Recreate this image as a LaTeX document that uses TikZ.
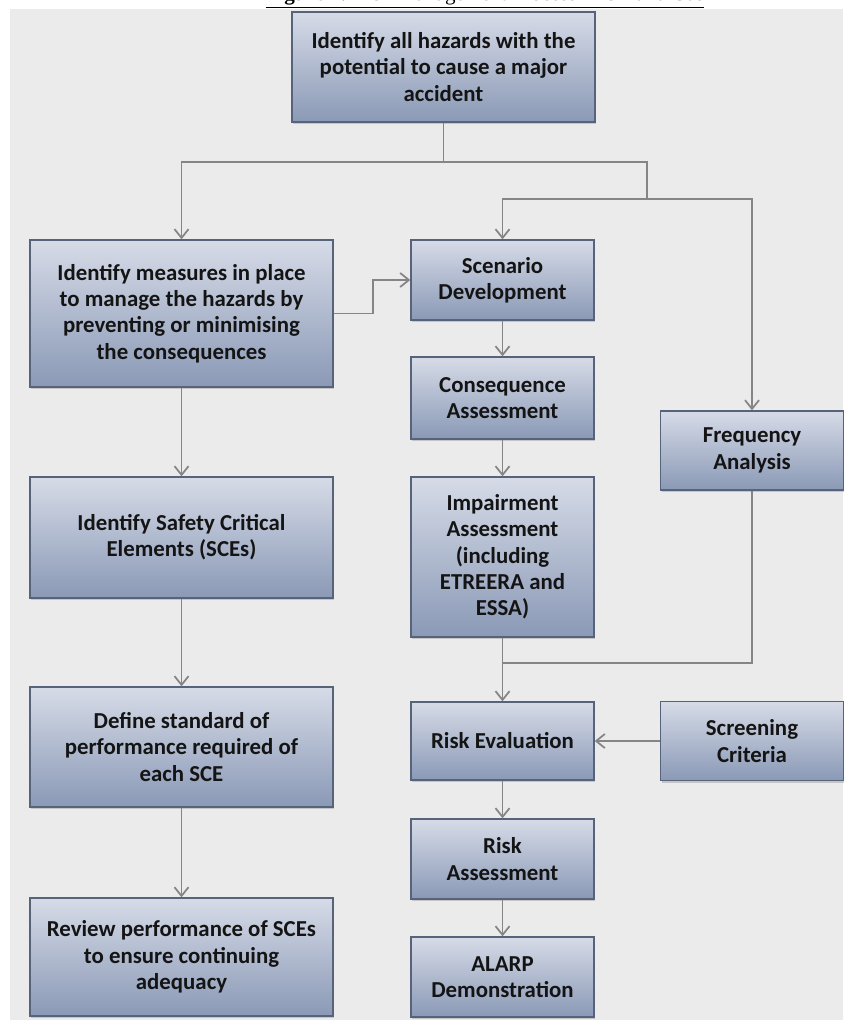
\documentclass[tikz,border=0pt]{standalone}
\usepackage{fontspec}
\setmainfont{Carlito}
\newfontfamily\capfont{Liberation Serif}
\usetikzlibrary{arrows.meta,shadows}
\definecolor{bgcol}{HTML}{EBEBEB}
\definecolor{boxtop}{HTML}{D6DBE7}
\definecolor{boxbot}{HTML}{8A99B6}
\definecolor{boxline}{HTML}{56637B}
\definecolor{linecol}{HTML}{858585}
\definecolor{boxtext}{HTML}{141414}

\begin{document}
\begin{tikzpicture}[x=0.02cm,y=-0.02cm,
		box/.style={draw=boxline,line width=0.8pt,top color=boxtop,bottom color=boxbot,align=center,text=boxtext,inner sep=2pt,font=\bfseries\fontsize{13}{15}\selectfont,drop shadow={opacity=0.35,shadow xshift=0.6pt,shadow yshift=-1.2pt}},
		wide/.style={box,minimum width=6.06cm},
		narrow/.style={box,minimum width=3.66cm},
		line/.style={draw=linecol,line width=1pt},
		arr/.style={line,-{Straight Barb[length=5pt,width=8pt]}}]
		\useasboundingbox (0,0) rectangle (843,1020);
		\fill[bgcol] (10,9) rectangle (843,1020);
		\node[anchor=south,inner sep=0,font=\capfont\fontsize{12}{14}\selectfont] (caption) at (485,9) {\underline{\textbf{Figure 1.} Risk Management Process in Oil and Gas}};
		\node[wide,minimum height=2.2cm] (hazards) at (443.5,67) {Identify all hazards with the\\potential to cause a major\\accident};
		\node[wide,minimum height=2.94cm] (measures) at (181.5,313.5) {Identify measures in place\\to manage the hazards by\\preventing or minimising\\the consequences};
		\node[wide,minimum height=2.42cm] (sce) at (181.5,537.5) {Identify Safety Critical\\Elements (SCEs)};
		\node[wide,minimum height=2.4cm] (define) at (181.5,747) {Define standard of\\performance required of\\each SCE};
		\node[wide,minimum height=2.36cm] (review) at (181.5,957) {Review performance of SCEs\\to ensure continuing\\adequacy};
		\node[narrow,minimum height=1.6cm] (scenario) at (502.5,280) {Scenario\\Development};
		\node[narrow,minimum height=1.64cm] (conseq) at (502.5,398) {Consequence\\Assessment};
		\node[narrow,minimum height=3.2cm] (impair) at (502.5,557) {Impairment\\Assessment\\(including\\ETREERA and\\ESSA)};
		\node[narrow,minimum height=1.56cm] (riskeval) at (502.5,741) {Risk Evaluation};
		\node[narrow,minimum height=1.6cm] (riskass) at (502.5,859) {Risk\\Assessment};
		\node[narrow,minimum height=1.6cm] (alarp) at (502.5,977) {ALARP\\Demonstration};
		\node[narrow,minimum height=1.58cm] (freq) at (752,450.5) {Frequency\\Analysis};
		\node[narrow,minimum height=1.58cm] (screening) at (752,741) {Screening\\Criteria};
		\coordinate (split) at (443.5,162);
		\coordinate (fork) at (647,199);
		\coordinate (merge) at (502.5,663);
		\draw[line] (hazards.south) -- (split) -| (fork);
		\draw[arr] (split) -| (measures.north);
		\draw[arr] (fork) -| (scenario.north);
		\draw[arr] (fork) -| (freq.north);
		\draw[arr] (measures.east) -- ++(39,0) |- (scenario.west);
		\draw[arr] (measures.south) -- (sce.north);
		\draw[arr] (sce.south) -- (define.north);
		\draw[arr] (define.south) -- (review.north);
		\draw[arr] (scenario.south) -- (conseq.north);
		\draw[arr] (conseq.south) -- (impair.north);
		\draw[arr] (impair.south) -- (riskeval.north);
		\draw[line] (freq.south) |- (merge);
		\draw[arr] (screening.west) -- (riskeval.east);
		\draw[arr] (riskeval.south) -- (riskass.north);
		\draw[arr] (riskass.south) -- (alarp.north);
\end{tikzpicture}
\end{document}
